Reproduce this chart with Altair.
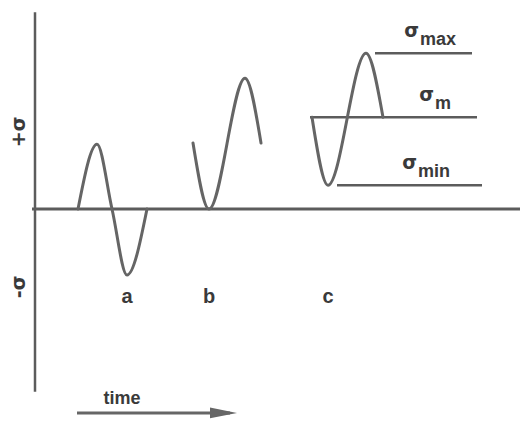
import altair as alt
import pandas as pd

# Stress-time histories: time in arbitrary units, stress in units of the alternating amplitude
cycle_a_t = [4.3, 6.2, 7.7, 9.2, 11.2]
cycle_a_s = [0.0, 0.98, 0.0, -1.0, 0.0]

cycle_b_t = [15.8, 17.4, 21.0, 22.6]
cycle_b_s = [1.0, 0.0, 1.98, 1.0]

cycle_c_t = [27.7, 29.3, 33.1, 34.8]
cycle_c_s = [1.39, 0.36, 2.36, 1.39]

case_names = ["a", "b", "c"]

# Reference levels of the fluctuating cycle (c)
level_subs = ["max", "m", "min"]
level_values = [2.36, 1.39, 0.36]
level_start = [34.0, 27.5, 30.2]
level_end = [43.7, 44.2, 44.7]

# Axis extents
axis_time_end = 48.5
axis_stress_low = -2.77
axis_stress_high = 2.98

# ---- layout ----
W, H = 520, 422
PX_T = 10.0      # pixels per time unit
PX_S = 66.0      # pixels per stress unit
T0_PX = 35.0     # pixel column of the stress axis
S0_PX = 209.0    # pixel row of zero stress

x_scale = alt.Scale(domain=[-T0_PX / PX_T, (W - T0_PX) / PX_T], nice=False, zero=False)
y_scale = alt.Scale(domain=[-(H - S0_PX) / PX_S, S0_PX / PX_S], nice=False, zero=False)

INK = "#5c5c5c"
TEXT = "#3a3a3a"
FONT = "Liberation Sans"


def X(field="t"):
    return alt.X(f"{field}:Q", scale=x_scale, axis=None)


def Y(field="s"):
    return alt.Y(f"{field}:Q", scale=y_scale, axis=None)


# curves
rows = []
for name, ts, ss in zip(case_names, [cycle_a_t, cycle_b_t, cycle_c_t],
                        [cycle_a_s, cycle_b_s, cycle_c_s]):
    for i, (t, s) in enumerate(zip(ts, ss)):
        rows.append({"case": name, "order": i, "t": t, "s": s})
curves_df = pd.DataFrame(rows)

curves = alt.Chart(curves_df).mark_line(
    interpolate="monotone", color="#656565", strokeWidth=3, strokeCap="round", strokeJoin="round"
).encode(x=X(), y=Y(), detail="case:N", order="order:Q")

# stress axis and zero-stress baseline
axes_df = pd.DataFrame({"t": [0.0], "s_lo": [axis_stress_low], "s_hi": [axis_stress_high]})
v_axis = alt.Chart(axes_df).mark_rule(color=INK, strokeWidth=2.5).encode(
    x=X(), y=Y("s_lo"), y2="s_hi:Q"
)
base_df = pd.DataFrame({"t0": [-0.3], "t1": [axis_time_end], "s": [0.0]})
baseline = alt.Chart(base_df).mark_rule(color=INK, strokeWidth=3).encode(
    x=X("t0"), x2="t1:Q", y=Y()
)

# level lines of the fluctuating cycle
levels_df = pd.DataFrame({"sub": level_subs, "s": level_values,
                          "t0": level_start, "t1": level_end})
levels = alt.Chart(levels_df).mark_rule(color=INK, strokeWidth=2.5).encode(
    x=X("t0"), x2="t1:Q", y=Y()
)

# sigma labels with subscripts above each level line
label_t = [38.5, 40.0, 38.3]
lab_df = levels_df.assign(tl=label_t)
sigma_txt = alt.Chart(lab_df).mark_text(
    text="σ", align="right", baseline="alphabetic", dx=-1, dy=-16,
    font="DejaVu Sans", fontWeight="bold", fontSize=19, color=TEXT
).encode(x=X("tl"), y=Y())
sub_txt = alt.Chart(lab_df).mark_text(
    align="left", baseline="alphabetic", dy=-8,
    font=FONT, fontWeight="bold", fontSize=18, color=TEXT
).encode(x=X("tl"), y=Y(), text="sub:N")

# case letters under each cycle's lowest point
trough_t = [ts[ss.index(min(ss))] for ts, ss in
            zip([cycle_a_t, cycle_b_t, cycle_c_t], [cycle_a_s, cycle_b_s, cycle_c_s])]
case_df = pd.DataFrame({"case": case_names, "t": trough_t, "s": [-1.33] * 3})
case_txt = alt.Chart(case_df).mark_text(
    baseline="middle", align="center", font=FONT, fontWeight="bold", fontSize=20, color=TEXT
).encode(x=X(), y=Y(), text="case:N")

# +sigma / -sigma on the stress axis
sign_df = pd.DataFrame({"lab": ["+σ", "-σ"], "t": [-1.6, -1.6], "s": [1.17, -1.18]})
sign_txt = alt.Chart(sign_df).mark_text(
    angle=270, align="center", baseline="middle", font="DejaVu Sans",
    fontWeight="bold", fontSize=19, color=TEXT
).encode(x=X(), y=Y(), text="lab:N")

# time arrow
arrow_df = pd.DataFrame({"t0": [4.2], "t1": [19.5], "s": [-3.09]})
arrow_shaft = alt.Chart(arrow_df).mark_rule(color="#666666", strokeWidth=3).encode(
    x=X("t0"), x2="t1:Q", y=Y()
)
head_df = pd.DataFrame({"t": [18.85], "s": [-3.09]})
arrow_head = alt.Chart(head_df).mark_point(
    shape="M-1,-0.4L1,0L-1,0.4Z", size=729, filled=True, color="#666666", opacity=1, strokeWidth=0
).encode(x=X(), y=Y())
time_df = pd.DataFrame({"lab": ["time"], "t": [8.7], "s": [-2.95]})
time_txt = alt.Chart(time_df).mark_text(
    align="center", baseline="alphabetic", font=FONT, fontWeight="bold", fontSize=18, color=TEXT
).encode(x=X(), y=Y(), text="lab:N")

chart = alt.layer(
    v_axis, baseline, levels, curves, arrow_shaft, arrow_head,
    sigma_txt, sub_txt, case_txt, sign_txt, time_txt
).properties(
    width=W, height=H, autosize=alt.AutoSizeParams(type="none"), padding=0, background="white"
).configure_view(stroke=None)

chart.save("out.html", embed_options={"renderer": "svg", "actions": False})
